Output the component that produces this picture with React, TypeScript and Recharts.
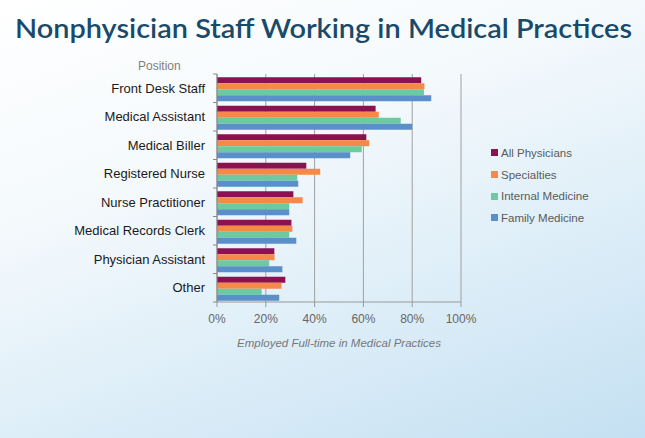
import { BarChart, Bar, XAxis, YAxis, CartesianGrid, Legend } from 'recharts';

const positions = [
  'Front Desk Staff',
  'Medical Assistant',
  'Medical Biller',
  'Registered Nurse',
  'Nurse Practitioner',
  'Medical Records Clerk',
  'Physician Assistant',
  'Other',
];

const allPhysicians = [83.7, 65, 61.2, 36.6, 31.3, 30.5, 23.5, 28];
const specialties = [85, 66.3, 62.4, 42.3, 35.1, 30.9, 23.6, 26.4];
const internalMedicine = [84.8, 75.3, 59.3, 32.9, 29.6, 29.6, 21.4, 18.3];
const familyMedicine = [87.8, 80, 54.6, 33.3, 29.6, 32.5, 26.8, 25.5];

const xTicks = [0, 20, 40, 60, 80, 100];

const series = [
  { key: 'all', name: 'All Physicians', color: '#8c1150' },
  { key: 'spec', name: 'Specialties', color: '#f5894a' },
  { key: 'im', name: 'Internal Medicine', color: '#6cc9a0' },
  { key: 'fm', name: 'Family Medicine', color: '#5b8fca' },
];

const data = positions.map((p, i) => ({
  position: p,
  all: allPhysicians[i],
  spec: specialties[i],
  im: internalMedicine[i],
  fm: familyMedicine[i],
}));

const PLOT_TOP = 74;
const PLOT_BOTTOM = 302;
const BAND = (PLOT_BOTTOM - PLOT_TOP) / positions.length;
const LABEL_GAP = 12;

function CategoryTick(props: any) {
  const { x, y, payload, index } = props;
  const axisX = x + LABEL_GAP;
  return (
    <g>
      <text
        x={x}
        y={y}
        dy="0.35em"
        textAnchor="end"
        fill="#1a1a1a"
        fontSize={13}
        fontFamily="'Liberation Sans', Arial, sans-serif"
      >
        {payload.value}
      </text>
      <line x1={axisX - 4} x2={axisX} y1={y - BAND / 2} y2={y - BAND / 2} stroke="#888" />
      {index === positions.length - 1 && (
        <line x1={axisX - 4} x2={axisX} y1={y + BAND / 2} y2={y + BAND / 2} stroke="#888" />
      )}
    </g>
  );
}

function LegendContent(props: any) {
  const order = series.map((s) => s.name);
  const items = [...(props.payload || [])].sort(
    (a: any, b: any) => order.indexOf(a.value) - order.indexOf(b.value)
  );
  return (
    <div style={{ fontFamily: "'Liberation Sans', Arial, sans-serif", fontSize: 11.5, color: '#5a5a5a' }}>
      {items.map((item: any) => (
        <div key={item.value} style={{ display: 'flex', alignItems: 'center', height: 21.7 }}>
          <span
            style={{
              display: 'inline-block',
              width: 7,
              height: 7,
              background: item.color,
              marginRight: 3,
            }}
          />
          {item.value}
        </div>
      ))}
    </div>
  );
}

export default function App() {
  return (
    <div
      style={{
        position: 'absolute',
        left: 0,
        top: 0,
        width: 645,
        height: 438,
        overflow: 'hidden',
        background: 'linear-gradient(160deg, #ffffff 0%, #f4f9fc 35%, #deeef8 65%, #c4e0f2 100%)',
      }}
    >
      <svg width={645} height={60} style={{ position: 'absolute', left: 0, top: 0 }}>
        <text
          x={15}
          y={38}
          textLength={617}
          lengthAdjust="spacingAndGlyphs"
          fontFamily="Lato, 'Open Sans', sans-serif"
          fontSize={26}
          fontWeight={600}
          fill="#1a4a6a"
        >
          Nonphysician Staff Working in Medical Practices
        </text>
      </svg>
      <div
        style={{
          position: 'absolute',
          left: 138,
          top: 59,
          fontFamily: "'Liberation Sans', Arial, sans-serif",
          fontSize: 12,
          color: '#808080',
        }}
      >
        Position
      </div>
      <BarChart
        width={645}
        height={438}
        data={data}
        layout="vertical"
        margin={{ top: PLOT_TOP, right: 184, left: 0, bottom: 438 - PLOT_BOTTOM - 50 }}
        barCategoryGap="11%"
        barGap={0}
        style={{ position: 'absolute', left: 0, top: 0 }}
      >
        <CartesianGrid horizontal={false} stroke="#a0a0a0" />
        <XAxis
          type="number"
          domain={[0, 100]}
          ticks={xTicks}
          tickFormatter={(v) => `${v}%`}
          height={50}
          tickSize={5}
          tickMargin={7}
          stroke="#999"
          tick={{ fill: '#666', fontSize: 12, fontFamily: "'Liberation Sans', Arial, sans-serif" }}
          label={{
            value: 'Employed Full-time in Medical Practices',
            position: 'insideBottom',
            offset: 5,
            fill: '#777',
            fontSize: 11.5,
            fontStyle: 'italic',
            fontFamily: "'Liberation Sans', Arial, sans-serif",
          }}
        />
        <YAxis
          type="category"
          dataKey="position"
          width={217}
          tickSize={0}
          tickMargin={LABEL_GAP}
          stroke="#888"
          tick={<CategoryTick />}
          interval={0}
        />
        <Legend
          layout="horizontal"
          verticalAlign="middle"
          align="center"
          content={<LegendContent />}
          wrapperStyle={{ left: 491, top: 142, width: 150 }}
        />
        {series.map((s) => (
          <Bar key={s.key} dataKey={s.key} name={s.name} fill={s.color} isAnimationActive={false} />
        ))}
      </BarChart>
    </div>
  );
}
